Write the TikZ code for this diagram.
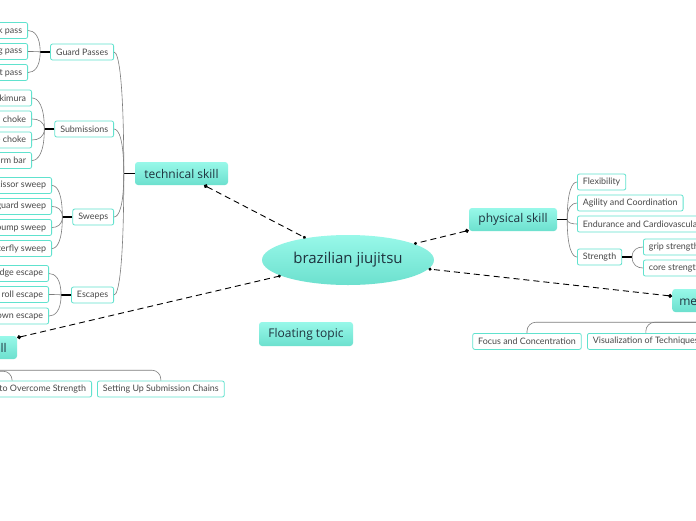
\documentclass[tikz,border=0pt]{standalone}
\usepackage{fontspec}
\setmainfont{Open Sans}
\newfontfamily\leaffont{Lato}
\usetikzlibrary{arrows.meta,calc,shapes.geometric}
\definecolor{topc}{RGB}{152,248,233}
\definecolor{botc}{RGB}{108,224,206}
\definecolor{leafc}{RGB}{96,226,206}
\definecolor{darktxt}{RGB}{30,50,62}
\definecolor{leaftxt}{RGB}{72,72,72}
\definecolor{treec}{RGB}{125,125,125}
\newcommand\mmleft[2]{\draw[tree] (#2.east) .. controls ($(#2.east)!0.5!(#1|-#2.east)$) and ($(#1)!0.75!(#1|-#2.east)$) .. (#1);}
\newcommand\mmright[2]{\draw[tree] (#2.west) .. controls ($(#2.west)!0.5!(#1|-#2.west)$) and ($(#1)!0.75!(#1|-#2.west)$) .. (#1);}
\begin{document}
\begin{tikzpicture}[x=1pt,y=-1pt,
  leaf/.style={draw=leafc, line width=0.8pt, rounded corners=2pt, fill=white,
    font=\leaffont\fontsize{8.9}{10}\selectfont, text=leaftxt, minimum height=16pt,
    inner xsep=5.5pt, inner ysep=0pt},
  subt/.style={rounded corners=3pt, top color=topc, bottom color=botc,
    font=\fontsize{12}{14}\selectfont, text=darktxt, minimum height=23pt, inner xsep=7pt, inner ysep=0pt},
  topic/.style={ellipse, top color=topc, bottom color=botc, font=\fontsize{15}{18}\selectfont,
    text=darktxt, minimum width=172pt, minimum height=50pt, inner sep=0pt},
  conn/.style={draw=black, line width=0.9pt, dash pattern=on 6pt off 4pt,
    {Circle[length=4pt]}-{Circle[length=3pt]}},
  tree/.style={draw=treec, line width=0.6pt},
  stub/.style={draw=black, line width=1.1pt}]
\useasboundingbox (0,0) rectangle (696,520);
\clip (0,0) rectangle (696,520);
\fill[white] (0,0) rectangle (696,520);

% central topic and main topics
\node[topic] (bjj) at (348,260) {brazilian jiujitsu};
\node[subt, minimum width=93pt] (tech) at (181.5,173.5) {technical skill};
\node[subt, minimum width=88pt] (phys) at (513,219.5) {physical skill};
\node[subt, minimum width=76pt] (ment) at (711,300.5) {mental skill};
\node[subt, minimum width=84pt] (tact) at (-25,347.5) {tactical skill};
\node[subt, minimum width=94pt, minimum height=24pt] (float) at (306,334) {Floating topic};

\draw[conn] (tech) -- (bjj);
\draw[conn] (phys) -- (bjj);
\draw[conn] (ment) -- (bjj);
\draw[conn] (tact) -- (bjj);

% technical skill tree
\node[leaf, anchor=east] (gp) at (114,52) {Guard Passes};
\node[leaf, anchor=east] (sm) at (114,129) {Submissions};
\node[leaf, anchor=east] (sw) at (114,217) {Sweeps};
\node[leaf, anchor=east] (es) at (114,295) {Escapes};
\coordinate (jT) at ($(tech.west)+(-11,0)$);
\draw[stub] (tech.west) -- (jT);
\mmleft{jT}{gp}\mmleft{jT}{sm}\mmleft{jT}{sw}\mmleft{jT}{es}

\node[leaf, anchor=east] (gp1) at (28,30.5) {stack pass};
\node[leaf, anchor=east] (gp2) at (28,51.5) {leg drag pass};
\node[leaf, anchor=east] (gp3) at (28,72.5) {knee cut pass};
\coordinate (jG) at ($(gp.west)+(-10,0)$);
\draw[stub] (gp.west) -- (jG);
\mmleft{jG}{gp1}\mmleft{jG}{gp2}\mmleft{jG}{gp3}

\node[leaf, anchor=east] (sm1) at (32,98) {kimura};
\node[leaf, anchor=east] (sm2) at (32,119) {rear naked choke};
\node[leaf, anchor=east] (sm3) at (32,140) {guillotine choke};
\node[leaf, anchor=east] (sm4) at (32,160.5) {arm bar};
\coordinate (jS) at ($(sm.west)+(-10,0)$);
\draw[stub] (sm.west) -- (jS);
\mmleft{jS}{sm1}\mmleft{jS}{sm2}\mmleft{jS}{sm3}\mmleft{jS}{sm4}

\node[leaf, anchor=east] (sw1) at (52,185.5) {scissor sweep};
\node[leaf, anchor=east] (sw2) at (52,206.5) {half guard sweep};
\node[leaf, anchor=east] (sw3) at (52,227.5) {hip bump sweep};
\node[leaf, anchor=east] (sw4) at (52,248.5) {butterfly sweep};
\coordinate (jW) at ($(sw.west)+(-10,0)$);
\draw[stub] (sw.west) -- (jW);
\mmleft{jW}{sw1}\mmleft{jW}{sw2}\mmleft{jW}{sw3}\mmleft{jW}{sw4}

\node[leaf, anchor=east] (es1) at (49,273.5) {bridge escape};
\node[leaf, anchor=east] (es2) at (49,294.5) {shoulder roll escape};
\node[leaf, anchor=east] (es3) at (49,316) {knee down escape};
\coordinate (jE) at ($(es.west)+(-10,0)$);
\draw[stub] (es.west) -- (jE);
\mmleft{jE}{es1}\mmleft{jE}{es2}\mmleft{jE}{es3}

% physical skill tree
\node[leaf, anchor=west] (ph1) at (577,182) {Flexibility};
\node[leaf, anchor=west] (ph2) at (577,203) {Agility and Coordination};
\node[leaf, anchor=west] (ph3) at (577,224) {Endurance and Cardiovascular Fitness};
\node[leaf, anchor=west] (ph4) at (577,257) {Strength};
\coordinate (jP) at ($(phys.east)+(10,0)$);
\draw[stub] (phys.east) -- (jP);
\mmright{jP}{ph1}\mmright{jP}{ph2}\mmright{jP}{ph3}\mmright{jP}{ph4}

\node[leaf, anchor=west] (st1) at (643,247) {grip strength};
\node[leaf, anchor=west] (st2) at (643,268) {core strength};
\coordinate (jR) at ($(ph4.east)+(10,0)$);
\draw[stub] (ph4.east) -- (jR);
\mmright{jR}{st1}\mmright{jR}{st2}

% mental skill tree
\node[leaf, anchor=north] (mn1) at (527,333) {Focus and Concentration};
\node[leaf, anchor=north west] (mn2) at (587,333) {Visualization of Techniques};
\draw[tree, rounded corners=9pt] (mn1.north) |- ($(ment.south)+(0,10)$) -- (ment.south);
\draw[tree, rounded corners=9pt] (mn2.north) |- ($(ment.south)+(0,10)$) -- (ment.south);

% tactical skill tree
\node[leaf, anchor=east] (tc1) at (92,389) {Using Leverage to Overcome Strength};
\node[leaf, anchor=west] (tc2) at (97,389) {Setting Up Submission Chains};
\draw[tree, rounded corners=9pt] (tc1.north) |- ($(tact.south)+(0,12)$) -- (tact.south);
\draw[tree, rounded corners=9pt] (tc2.north) |- ($(tact.south)+(0,11)$) -- (tact.south);
\end{tikzpicture}
\end{document}
